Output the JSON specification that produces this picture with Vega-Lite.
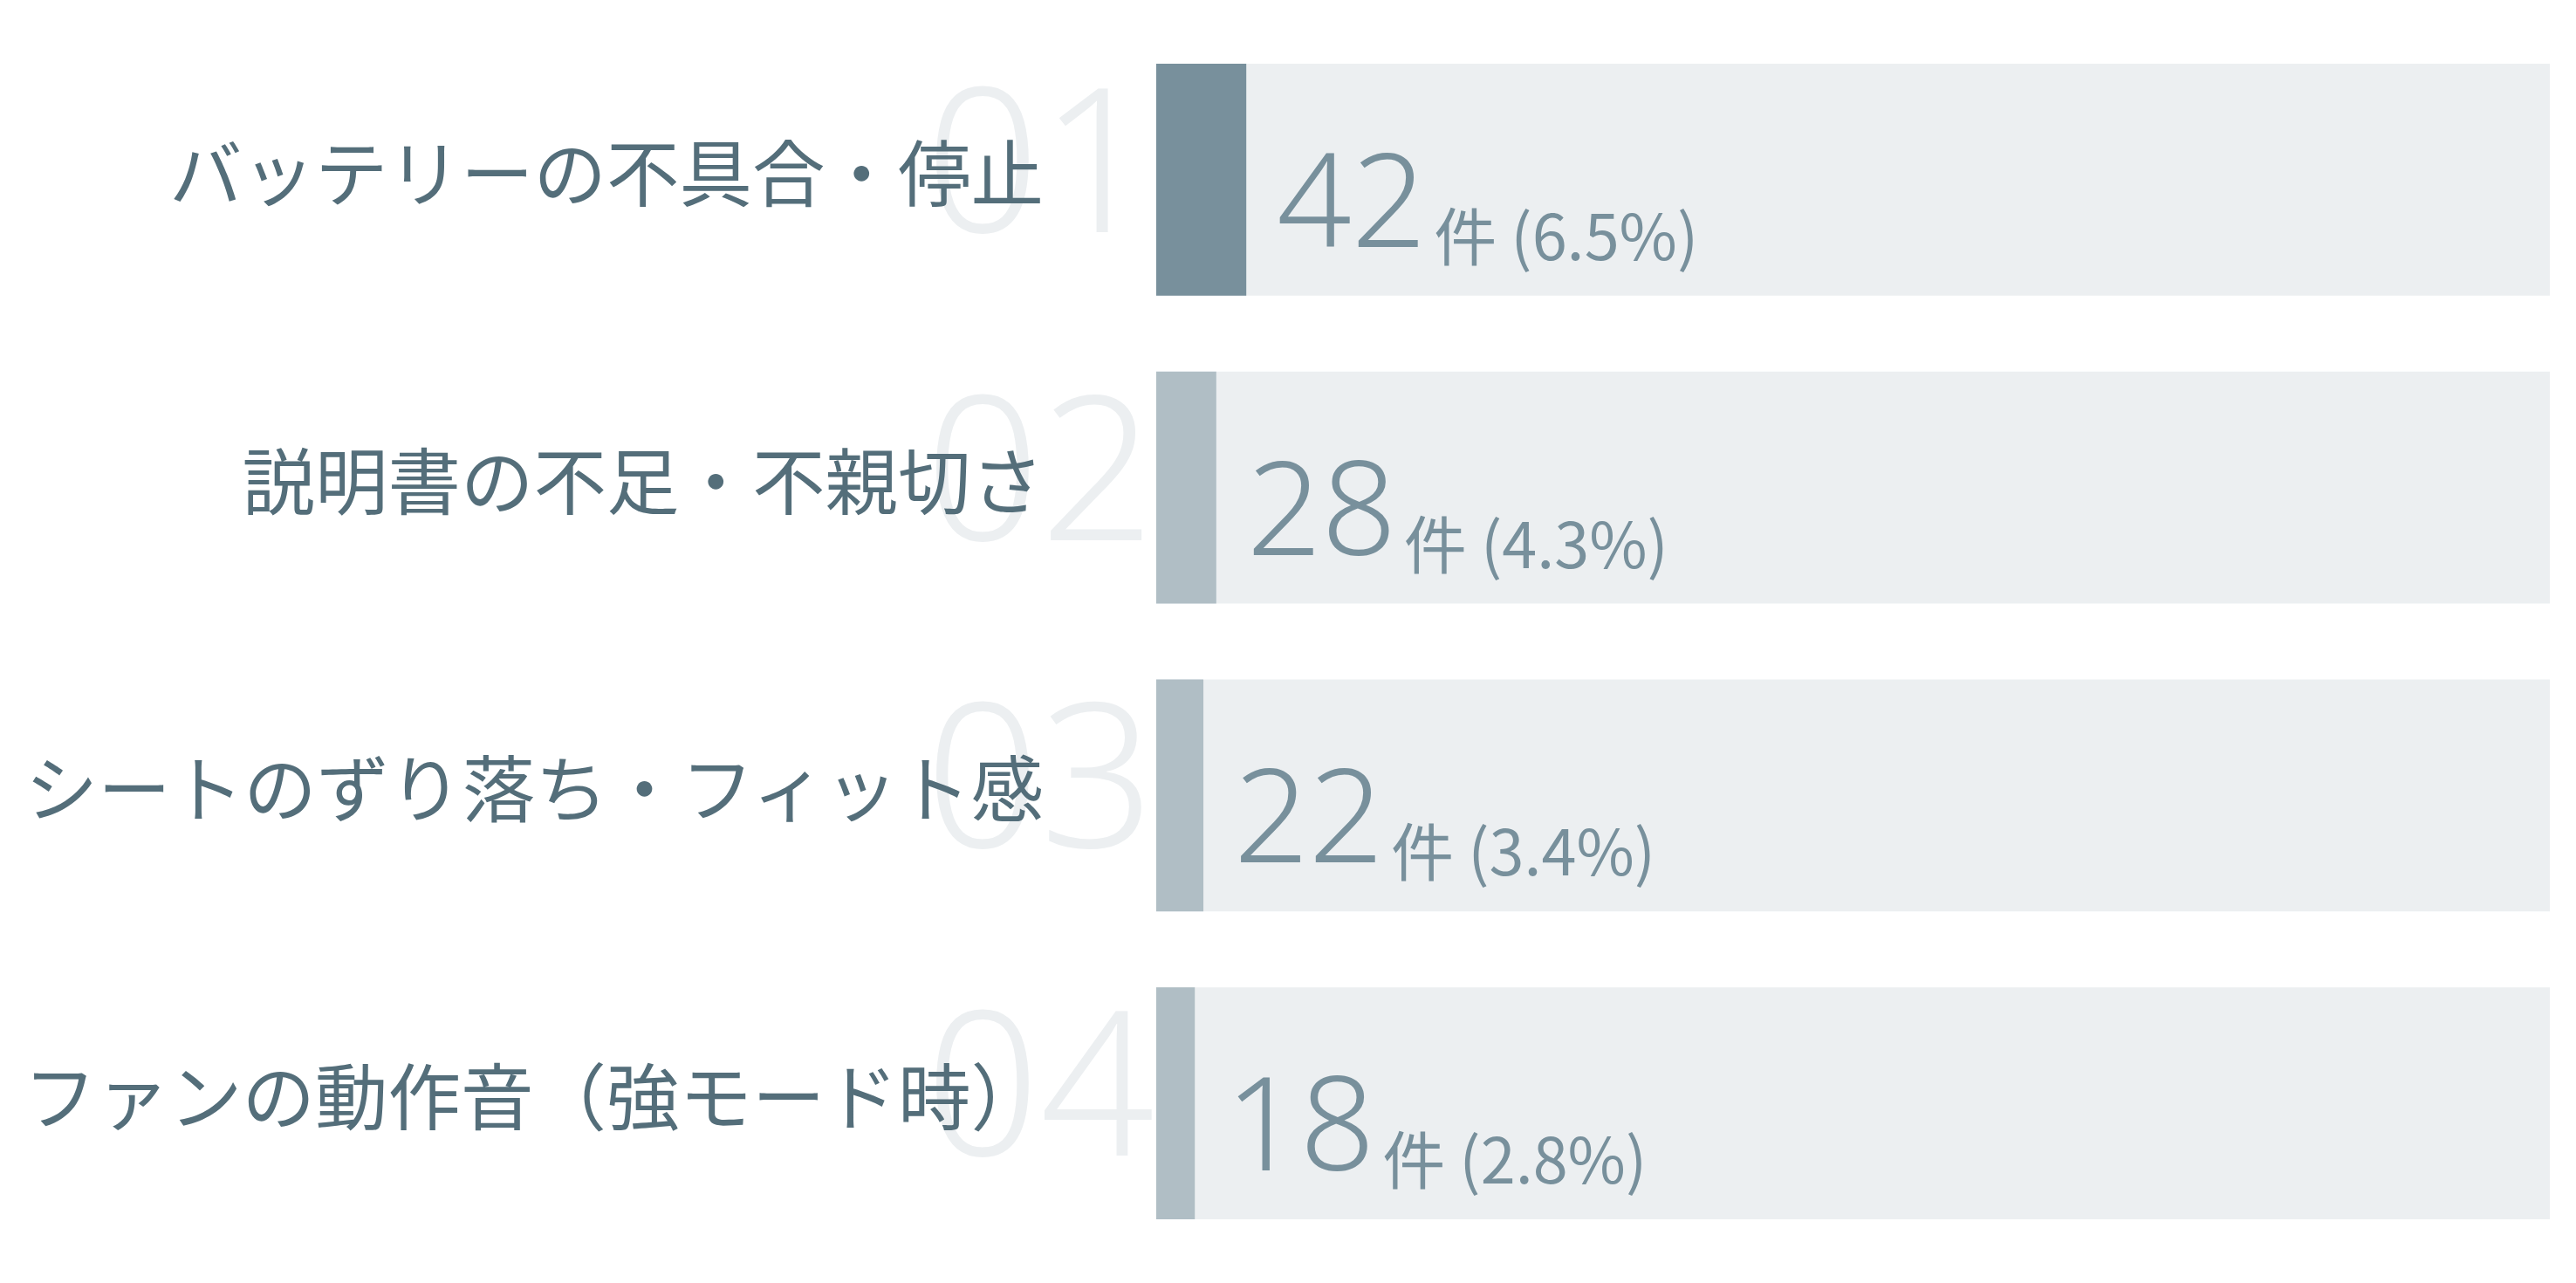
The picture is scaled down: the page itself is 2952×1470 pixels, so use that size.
{
  "$schema": "https://vega.github.io/schema/vega-lite/v6.json",
  "width": 1597,
  "height": 1470,
  "autosize": {"type": "none"},
  "padding": {"left": 1325, "right": 30, "top": 0, "bottom": 0},
  "background": "#ffffff",
  "config": {"view": {"stroke": null}},
  "data": {
    "values": [
      {"rank": "01", "label": "バッテリーの不具合・停止", "count": 42, "detail": "件 (6.5%)", "total": 650},
      {"rank": "02", "label": "説明書の不足・不親切さ", "count": 28, "detail": "件 (4.3%)", "total": 650},
      {"rank": "03", "label": "シートのずり落ち・フィット感", "count": 22, "detail": "件 (3.4%)", "total": 650},
      {"rank": "04", "label": "ファンの動作音（強モード時）", "count": 18, "detail": "件 (2.8%)", "total": 650}
    ]
  },
  "encoding": {
    "y": {
      "field": "rank",
      "type": "nominal",
      "sort": null,
      "axis": null,
      "scale": {"paddingInner": 0.247, "paddingOuter": 0.207}
    }
  },
  "layer": [
    {
      "mark": {"type": "bar", "color": "#eceff1"},
      "encoding": {
        "x": {"field": "total", "type": "quantitative", "scale": {"domain": [0, 650], "nice": false, "zero": true}, "axis": null}
      }
    },
    {
      "mark": {"type": "text", "align": "right", "baseline": "alphabetic", "dx": -2, "dy": 60, "font": "Noto Sans", "fontSize": 230, "fontWeight": 350, "color": "#eceff1"},
      "encoding": {
        "x": {"datum": 0},
        "text": {"field": "rank"}
      }
    },
    {
      "mark": {"type": "text", "align": "right", "baseline": "middle", "dx": -129, "dy": -1, "font": "Noto Sans CJK JP", "fontSize": 83.5, "fontWeight": 400, "color": "#546e7a"},
      "encoding": {
        "x": {"datum": 0},
        "text": {"field": "label"}
      }
    },
    {
      "mark": {"type": "bar"},
      "encoding": {
        "x": {"field": "count", "type": "quantitative"},
        "color": {
          "field": "rank",
          "type": "nominal",
          "scale": {"domain": ["01", "02", "03", "04"], "range": ["#78909c", "#b0bec5", "#b0bec5", "#b0bec5"]},
          "legend": null
        }
      }
    },
    {
      "mark": {"type": "text", "align": "left", "baseline": "alphabetic", "dx": 35, "dy": 77, "font": "Noto Sans", "fontSize": 150, "fontWeight": 350, "color": "#78909c"},
      "encoding": {
        "x": {"field": "count", "type": "quantitative"},
        "text": {"field": "count", "type": "quantitative"}
      }
    },
    {
      "mark": {"type": "text", "align": "left", "baseline": "alphabetic", "dx": 215, "dy": 92, "font": "Noto Sans CJK JP", "fontSize": 72, "fontWeight": 400, "color": "#78909c"},
      "encoding": {
        "x": {"field": "count", "type": "quantitative"},
        "text": {"field": "detail"}
      }
    }
  ]
}
